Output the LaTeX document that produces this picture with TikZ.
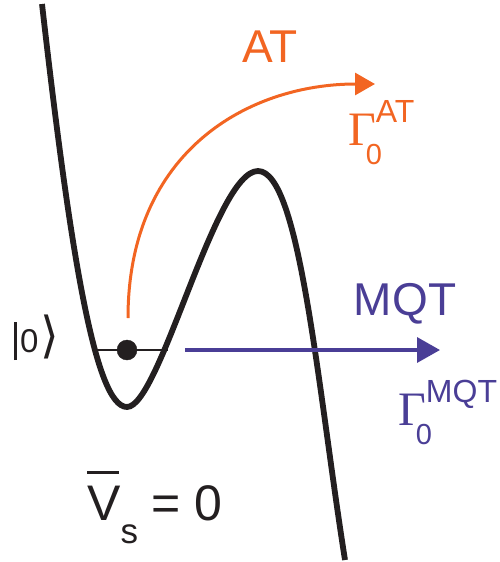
\documentclass[tikz,border=0pt]{standalone}
\usepackage{graphicx}
\usepackage{fontspec}
\setmainfont{Liberation Sans}
\newfontfamily\serifgreek{Liberation Serif}
\newfontfamily\symbolfont{DejaVu Sans}
\usetikzlibrary{arrows.meta}

\definecolor{ink}{RGB}{35,31,32}
\definecolor{atorange}{RGB}{242,101,34}
\definecolor{mqtblue}{RGB}{74,62,150}

% escape rate Gamma_0^{#1}
\newcommand\rate[1]{{\serifgreek\fontsize{48}{48}\selectfont Γ}\rlap{\kern-10pt\raisebox{-19pt}{\fontsize{29}{29}\selectfont 0}}\raisebox{23pt}{\fontsize{32}{32}\selectfont #1}}

\begin{document}
\begin{tikzpicture}[x=1pt, y=-1pt]

  \useasboundingbox (0,0) rectangle (499,562);

  \coordinate (Top) at (42,4);
  \coordinate (Min) at (127,407);
  \coordinate (Max) at (258,171);
  \coordinate (Bot) at (345,560);

  % Potential well
  \draw[ink, line width=5.8pt] (Top) .. controls (70,250) and (95,407) .. (Min)
    .. controls (160,407) and (215,171) .. (Max)
    .. controls (300,171) and (318,390) .. (Bot);

  % Ground state level
  \coordinate (L) at (92,350);
  \coordinate (R) at (168,350);
  \coordinate (G) at (127,350);
  \draw[ink, line width=2.2pt] (L) -- (R);
  \filldraw[ink] (G) circle (10);

  % Escape channels
  \coordinate (ATstart) at (128,318);
  \coordinate (ATend) at (375,84);
  \coordinate (MQTstart) at (185,350);
  \coordinate (MQTend) at (440,350);
  \draw[atorange, line width=3pt, -{Triangle[length=20pt, width=22pt]}]
    (ATstart) .. controls (128,150) and (250,84) .. (ATend);
  \draw[mqtblue, line width=3.5pt, -{Triangle[length=23pt, width=25pt]}]
    (MQTstart) -- (MQTend);

  % Labels
  \node[atorange, anchor=base, inner sep=0, font=\fontsize{46}{46}\selectfont] (at) at (270,62) {AT};
  \node[atorange, anchor=base west, inner sep=0] (gat) at (348,145) {\rate{AT}};
  \node[mqtblue, anchor=base, inner sep=0, font=\fontsize{46}{46}\selectfont] (mqt) at (405,315) {MQT};
  \node[mqtblue, anchor=base west, inner sep=0] (gmqt) at (398,425) {\rate{MQT}};
  \node[ink, anchor=base west, inner sep=0, font=\fontsize{33}{33}\selectfont] (ket) at (14,352)
    {\rule[-8pt]{3pt}{38pt}\hspace{3pt}0\hspace{2pt}{\symbolfont\scalebox{1.45}[1.5]{⟩}}};
  \node[ink, anchor=base west, inner sep=0, font=\fontsize{50}{50}\selectfont] (vs) at (87,520)
    {\rlap{\raisebox{46pt}{\rule{32pt}{3pt}}}V\raisebox{-23pt}{\fontsize{35}{35}\selectfont s} = 0};

\end{tikzpicture}
\end{document}
